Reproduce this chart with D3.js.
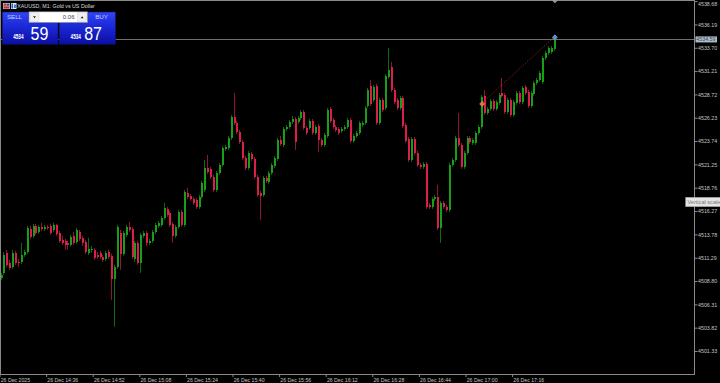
<!DOCTYPE html>
<html><head><meta charset="utf-8">
<script src="https://cdn.jsdelivr.net/npm/d3@7/dist/d3.min.js"></script>
<style>
html,body{margin:0;padding:0;background:#000;overflow:hidden}
svg{display:block}
</style></head><body>
<script>
// ---------- DATA ----------
const chartTitle = "XAUUSD, M1:  Gold vs US Dollar";
const timeLabels = ["26 Dec 2025","26 Dec 14:36","26 Dec 14:52","26 Dec 15:08","26 Dec 15:24","26 Dec 15:40","26 Dec 15:56","26 Dec 16:12","26 Dec 16:28","26 Dec 16:44","26 Dec 17:00","26 Dec 17:16"];
const timeLabelBars = [0,16,32,48,64,80,96,112,128,144,160,176];
const priceTicks = [4538.68,4536.19,4533.70,4531.21,4528.72,4526.23,4523.74,4521.25,4518.76,4516.27,4513.78,4511.29,4508.80,4506.31,4503.82,4501.33];
const currentPrice = 4534.59;
const sellPrice = ["4534","59"];
const buyPrice = ["4534","87"];
const lotSize = "0.06";
const tradeEntry = {bar:165, price:4527.70};
const tradeExit = {bar:190, price:4534.82};

const opens = [4509.14,4509.67,4511.81,4510.74,4510.31,4511.81,4510.85,4510.85,4511.59,4511.91,
4514.37,4513.62,4514.69,4514.05,4514.58,4514.37,4514.58,4514.69,4514.26,4514.79,
4513.94,4513.19,4513.09,4512.87,4512.66,4513.62,4512.98,4514.05,4513.41,4512.98,
4511.81,4512.13,4512.13,4511.59,4511.81,4511.38,4511.17,4511.91,4511.49,4509.03,
4510.31,4513.94,4511.70,4513.73,4514.58,4514.37,4511.17,4512.87,4510.74,4513.62,
4513.94,4512.87,4513.09,4514.05,4514.69,4514.79,4515.54,4516.50,4516.07,4514.90,
4513.62,4514.58,4516.18,4514.79,4518.21,4517.89,4517.57,4517.46,4516.71,4517.78,
4518.52,4520.87,4520.77,4519.91,4518.52,4520.34,4521.19,4522.90,4523.01,4524.07,
4526.32,4525.68,4524.72,4523.65,4521.94,4520.87,4522.37,4521.83,4519.91,4518.21,
4517.99,4519.81,4519.38,4520.34,4521.09,4521.83,4523.86,4523.33,4525.04,4525.25,
4525.78,4526.10,4525.78,4526.21,4526.85,4525.14,4525.14,4525.89,4524.61,4525.36,
4523.86,4523.33,4524.29,4527.17,4525.99,4525.25,4525.04,4524.82,4525.04,4525.25,
4525.99,4523.75,4524.29,4524.61,4525.46,4525.68,4527.49,4529.62,4528.13,4529.62,
4525.68,4528.13,4527.28,4530.58,4531.65,4529.19,4528.13,4527.28,4528.34,4525.46,
4523.97,4521.72,4523.97,4522.47,4521.19,4520.98,4521.30,4516.93,4516.71,4517.57,
4517.78,4514.47,4517.14,4516.71,4516.39,4521.19,4521.72,4524.07,4523.33,4520.98,
4522.47,4524.07,4523.54,4523.54,4524.61,4525.25,4528.56,4526.74,4527.17,4528.02,
4527.17,4527.81,4528.88,4528.66,4526.85,4528.13,4526.53,4527.81,4528.88,4527.92,
4529.52,4528.98,4527.49,4528.77,4529.94,4530.26,4530.05,4532.61,4533.14,4533.25,
4533.57];
const highs = [4509.67,4511.91,4512.13,4511.06,4512.13,4512.02,4511.17,4512.87,4512.13,4514.69,
4514.69,4514.90,4514.90,4514.79,4515.01,4514.79,4514.79,4514.90,4515.01,4514.90,
4514.15,4513.62,4513.30,4513.09,4513.73,4514.05,4514.47,4514.26,4513.62,4513.19,
4513.41,4512.55,4512.34,4511.91,4512.02,4511.59,4512.02,4512.13,4511.70,4510.53,
4514.79,4514.26,4514.15,4514.79,4515.11,4514.58,4513.09,4513.09,4513.94,4514.15,
4514.15,4513.30,4514.26,4515.01,4515.22,4515.75,4517.14,4516.71,4516.29,4515.11,
4514.79,4516.39,4516.39,4518.52,4518.74,4518.10,4517.78,4517.67,4517.99,4519.49,
4521.72,4522.26,4520.98,4520.13,4520.55,4521.41,4523.22,4523.33,4524.29,4526.53,
4528.88,4525.89,4524.93,4523.86,4522.15,4522.69,4522.58,4522.05,4520.13,4518.42,
4520.02,4520.02,4520.55,4521.41,4522.15,4524.07,4524.29,4525.25,4525.46,4525.99,
4526.42,4526.32,4526.42,4527.06,4527.06,4525.36,4526.10,4526.10,4525.46,4525.57,
4524.07,4524.61,4527.28,4527.38,4526.21,4525.46,4525.25,4525.25,4525.46,4526.21,
4526.21,4524.50,4524.82,4525.89,4525.89,4527.49,4529.41,4530.26,4529.73,4529.84,
4528.34,4528.34,4530.90,4533.68,4532.18,4529.41,4528.34,4528.56,4528.56,4525.68,
4524.18,4524.18,4524.18,4522.69,4521.41,4521.51,4521.51,4517.14,4517.78,4517.99,
4519.06,4517.35,4517.35,4516.93,4521.41,4521.94,4524.29,4526.74,4523.54,4522.69,
4524.29,4524.29,4524.07,4524.82,4525.46,4528.66,4529.19,4527.38,4528.24,4528.24,
4528.13,4528.88,4530.48,4528.88,4528.34,4528.34,4528.13,4529.09,4529.09,4529.62,
4529.73,4529.19,4529.09,4530.16,4530.48,4531.22,4532.82,4533.36,4533.89,4533.89,
4534.85];
const lows = [4508.92,4509.46,4510.31,4509.99,4510.10,4510.53,4510.31,4510.63,4511.38,4511.70,
4513.30,4513.41,4513.73,4513.83,4514.15,4514.15,4514.26,4513.73,4514.05,4513.62,
4512.87,4512.66,4512.13,4512.13,4512.45,4512.66,4512.77,4513.09,4512.55,4511.70,
4511.59,4511.81,4511.06,4511.17,4511.17,4510.85,4510.95,4511.17,4506.79,4503.91,
4510.10,4509.99,4511.49,4513.51,4514.05,4511.17,4510.85,4510.53,4509.67,4513.41,
4512.55,4512.66,4512.87,4513.83,4514.47,4514.58,4515.33,4515.65,4514.58,4512.87,
4513.41,4514.37,4514.58,4514.58,4517.57,4517.35,4516.93,4516.50,4516.50,4517.57,
4518.31,4520.23,4519.70,4518.31,4518.31,4520.13,4520.98,4522.69,4522.79,4523.86,
4525.46,4524.50,4523.43,4521.72,4520.66,4520.66,4521.62,4519.70,4517.78,4515.33,
4517.78,4519.27,4519.17,4520.13,4520.87,4521.62,4523.22,4523.11,4524.82,4525.04,
4525.57,4522.79,4525.57,4525.99,4524.93,4524.39,4524.93,4524.39,4524.39,4522.58,
4523.11,4523.11,4524.07,4525.68,4525.04,4524.72,4524.39,4524.61,4524.82,4525.04,
4523.54,4523.54,4524.07,4524.39,4525.25,4525.46,4527.28,4527.49,4527.92,4525.46,
4525.46,4526.85,4527.06,4530.37,4528.98,4527.70,4527.06,4527.06,4525.14,4523.54,
4521.51,4521.51,4522.26,4520.98,4520.77,4520.77,4516.50,4516.50,4516.50,4517.35,
4514.26,4512.87,4516.50,4516.18,4516.18,4520.98,4521.51,4523.11,4520.77,4520.77,
4522.26,4523.43,4523.33,4523.33,4524.39,4525.04,4526.53,4526.53,4526.96,4526.96,
4526.96,4527.60,4528.34,4526.64,4526.64,4526.32,4526.32,4527.60,4527.70,4527.70,
4528.66,4527.28,4527.28,4528.56,4529.73,4530.05,4529.84,4532.40,4532.93,4533.04,
4533.36];
const closes = [4509.46,4511.59,4510.53,4510.20,4511.81,4510.74,4510.74,4511.59,4511.91,4514.47,
4513.51,4514.69,4513.94,4514.58,4514.37,4514.58,4514.47,4513.94,4514.79,4513.83,
4513.09,4512.87,4512.66,4512.66,4513.51,4512.87,4514.26,4513.30,4512.87,4511.91,
4512.23,4512.23,4511.27,4511.38,4511.38,4511.06,4511.81,4511.38,4509.03,4510.31,
4514.58,4511.70,4513.94,4514.58,4514.26,4511.38,4512.87,4510.74,4513.73,4513.94,
4512.87,4513.09,4514.05,4514.79,4515.01,4515.54,4516.61,4515.86,4514.79,4513.62,
4514.58,4516.18,4514.79,4518.31,4517.78,4517.57,4517.14,4516.71,4517.78,4519.27,
4520.87,4520.45,4519.91,4518.52,4520.34,4521.19,4523.01,4523.11,4524.07,4526.32,
4525.68,4524.72,4523.65,4521.94,4520.87,4522.47,4521.83,4519.91,4517.99,4517.89,
4519.81,4519.49,4520.34,4521.19,4521.94,4523.86,4523.43,4525.04,4525.25,4525.78,
4526.10,4523.65,4526.21,4526.85,4525.14,4524.61,4525.89,4524.61,4525.25,4523.86,
4523.33,4524.39,4527.06,4525.89,4525.25,4524.93,4524.61,4525.04,4525.25,4525.99,
4523.75,4524.29,4524.61,4525.68,4525.68,4527.28,4529.19,4527.70,4529.52,4525.68,
4528.13,4527.06,4530.69,4531.33,4529.19,4527.92,4527.28,4528.34,4525.36,4523.75,
4521.72,4523.97,4522.47,4521.19,4520.98,4521.30,4516.71,4516.71,4517.57,4517.78,
4514.47,4517.14,4516.71,4516.39,4521.19,4521.72,4524.07,4523.33,4520.98,4522.47,
4524.07,4523.65,4523.86,4524.61,4525.25,4528.45,4526.74,4527.17,4528.02,4527.17,
4527.92,4528.66,4528.56,4526.85,4528.13,4526.53,4527.92,4528.88,4527.92,4529.41,
4528.88,4527.49,4528.88,4529.94,4530.26,4531.01,4532.61,4533.14,4533.68,4533.68,
4534.59];

// ---------- LAYOUT ----------
const W = 720, H = 383;
const plotRight = 694.5, plotBottom = 374.5;
const FONT = "'Liberation Sans', Arial, sans-serif";

const svg = d3.select("body").append("svg").attr("width", W).attr("height", H)
  .style("background", "#000").style("font-family", FONT);

const x = d3.scaleLinear().domain([0, 16]).range([0.5, 47.1]);
const y = d3.scaleLinear().domain([4501.33, 4538.68]).range([351.0, 1.1]);

const candles = opens.map((o, i) => ({i, o, h: highs[i], l: lows[i], c: closes[i]}));

const plot = svg.append("g");
plot.append("clipPath").attr("id", "pc").append("rect")
  .attr("x", 0).attr("y", 0).attr("width", plotRight).attr("height", plotBottom);
const cg = plot.append("g").attr("clip-path", "url(#pc)");

// price line
cg.append("line").attr("x1", 0).attr("x2", plotRight)
  .attr("y1", Math.round(y(currentPrice)) + 0.5).attr("y2", Math.round(y(currentPrice)) + 0.5)
  .attr("stroke", "#6f6f6f").attr("stroke-width", 1);

// wicks
cg.selectAll("line.wick").data(candles).join("line").attr("class", "wick")
  .attr("x1", d => Math.round(x(d.i)) + 0.5).attr("x2", d => Math.round(x(d.i)) + 0.5)
  .attr("y1", d => y(d.h)).attr("y2", d => y(d.l))
  .attr("stroke", d => d.c >= d.o ? "#0c6a0c" : "#8e1534").attr("stroke-width", 1);

// bodies
cg.selectAll("rect.body").data(candles).join("rect").attr("class", "body")
  .attr("x", d => Math.round(x(d.i)) - 0.5).attr("width", 2)
  .attr("y", d => y(Math.max(d.o, d.c)))
  .attr("height", d => Math.max(1, Math.abs(y(d.o) - y(d.c))))
  .attr("fill", d => d.c >= d.o ? "#17a017" : "#dc1e48")
  .attr("shape-rendering", "crispEdges");

// trade line
const ex = x(tradeEntry.bar), ey = y(tradeEntry.price);
const tx = x(tradeExit.bar), ty = y(tradeExit.price);
cg.append("line").attr("x1", ex).attr("y1", ey).attr("x2", tx).attr("y2", ty)
  .attr("stroke", "#a02222").attr("stroke-width", 1).attr("stroke-dasharray", "1,1.6");
const diamond = (cx, cy, r) => `M${cx},${cy - r}L${cx + r},${cy}L${cx},${cy + r}L${cx - r},${cy}Z`;
cg.append("path").attr("d", diamond(ex + 1, ey, 2.4)).attr("fill", "#f0663a").attr("stroke", "#f3b59a").attr("stroke-width", 0.6);
cg.append("path").attr("d", diamond(tx + 1, ty, 2.4)).attr("fill", "#4e8fd6").attr("stroke", "#a8c8ee").attr("stroke-width", 0.6);

// frame
const frame = svg.append("g").attr("stroke", "#8a8a8a").attr("stroke-width", 1).attr("shape-rendering", "crispEdges");
frame.append("line").attr("x1", 0.5).attr("x2", 0.5).attr("y1", 0).attr("y2", plotBottom);
frame.append("line").attr("x1", 0).attr("x2", plotRight).attr("y1", 0.5).attr("y2", 0.5);
frame.append("line").attr("x1", 0).attr("x2", plotRight).attr("y1", plotBottom).attr("y2", plotBottom);
frame.append("line").attr("x1", plotRight).attr("x2", plotRight).attr("y1", 0).attr("y2", plotBottom);

// chart shift marker
svg.append("path").attr("d", diamond(x(190) + 1, 0.5, 2.8)).attr("fill", "#9a9a9a");

// ---------- AXES ----------
const yAxis = d3.axisRight(y).tickValues(priceTicks).tickFormat(d3.format(".2f"))
  .tickSize(3).tickPadding(0.5);
const yg = svg.append("g").attr("transform", `translate(${plotRight},0)`).call(yAxis);
yg.select(".domain").remove();
yg.selectAll(".tick line").attr("stroke", "#8a8a8a");
yg.selectAll(".tick text").attr("fill", "#c4c4c4").style("font-size", "5.3px").style("font-family", FONT)
  .attr("dy", (d, k) => k === 0 ? "0.9em" : "0.32em");

const xAxis = d3.axisBottom(x).tickValues(timeLabelBars).tickFormat((d, k) => timeLabels[k])
  .tickSize(2.5).tickPadding(1);
const xg = svg.append("g").attr("transform", `translate(-1,${plotBottom})`).call(xAxis);
xg.select(".domain").remove();
xg.selectAll(".tick line").attr("stroke", "#8a8a8a");
xg.selectAll(".tick text").attr("fill", "#c4c4c4").attr("text-anchor", "start").attr("x", 0.7)
  .style("font-size", "5.2px").style("font-family", FONT);

// current price label
const cpY = y(currentPrice);
svg.append("rect").attr("x", 695.5).attr("y", cpY - 3).attr("width", 21.5).attr("height", 6)
  .attr("fill", "#aebdcd");
svg.append("text").attr("x", 696.3).attr("y", cpY + 1.9).text(d3.format(".2f")(currentPrice))
  .attr("fill", "#3a4a5a").style("font-size", "5.3px");

// vertical scale tooltip
svg.append("rect").attr("x", 685.7).attr("y", 197.3).attr("width", 40).attr("height", 9.4)
  .attr("fill", "#e4e4e4").attr("stroke", "#9c9c9c").attr("stroke-width", 0.6);
svg.append("text").attr("x", 687.4).attr("y", 204.2).text("Vertical scale")
  .attr("fill", "#7a7a7a").style("font-size", "5.6px");

// ---------- TITLE ----------
const ic = svg.append("g");
ic.append("rect").attr("x", 3).attr("y", 3).attr("width", 7).attr("height", 6).attr("fill", "#d9d9e8");
ic.append("rect").attr("x", 3.5).attr("y", 3.5).attr("width", 3).attr("height", 2.3).attr("fill", "#c03030");
ic.append("rect").attr("x", 6.8).attr("y", 3.5).attr("width", 2.7).attr("height", 2.3).attr("fill", "#3050b0");
ic.append("rect").attr("x", 3.5).attr("y", 6.3).attr("width", 6).attr("height", 2.3).attr("fill", "#c03030");
ic.append("rect").attr("x", 11).attr("y", 3).attr("width", 5.5).attr("height", 6).attr("fill", "#e8eef8");
ic.append("rect").attr("x", 11.5).attr("y", 3.5).attr("width", 1.6).attr("height", 5).attr("fill", "#2a5fb8");
ic.append("rect").attr("x", 14.2).attr("y", 4.5).attr("width", 1.6).attr("height", 3.5).attr("fill", "#2a5fb8");
svg.append("text").attr("x", 17.3).attr("y", 8.2).text(chartTitle)
  .attr("fill", "#d8d8d8").style("font-size", "5.3px");

// ---------- ONE CLICK TRADING PANEL ----------
const defs = svg.append("defs");
const g1 = defs.append("linearGradient").attr("id", "btnGrad").attr("x1", 0).attr("y1", 0).attr("x2", 0).attr("y2", 1);
g1.append("stop").attr("offset", "0%").attr("stop-color", "#3347f0");
g1.append("stop").attr("offset", "35%").attr("stop-color", "#1e2ee0");
g1.append("stop").attr("offset", "100%").attr("stop-color", "#0b0ea2");
const panel = svg.append("g");
[[2.3, 55.7], [59.2, 56.3]].forEach(([bx, bw]) => {
  panel.append("rect").attr("x", bx).attr("y", 12).attr("width", bw).attr("height", 32.2)
    .attr("fill", "url(#btnGrad)").attr("stroke", "#10146a").attr("stroke-width", 0.6);
});
// lot box
panel.append("rect").attr("x", 29).attr("y", 11.8).attr("width", 58.6).attr("height", 10.8)
  .attr("fill", "#ffffff").attr("stroke", "#7a7a7a").attr("stroke-width", 0.6);
panel.append("rect").attr("x", 30).attr("y", 12.8).attr("width", 9).attr("height", 8.8).attr("fill", "#f0f0f0").attr("stroke", "#c8c8c8").attr("stroke-width", 0.4);
panel.append("rect").attr("x", 77.6).attr("y", 12.8).attr("width", 9).attr("height", 8.8).attr("fill", "#f0f0f0").attr("stroke", "#c8c8c8").attr("stroke-width", 0.4);
panel.append("path").attr("d", "M33,16.3L36,16.3L34.5,18.3Z").attr("fill", "#202020");
panel.append("path").attr("d", "M80.6,18.3L83.6,18.3L82.1,16.3Z").attr("fill", "#202020");
panel.append("text").attr("x", 74.5).attr("y", 19.2).attr("text-anchor", "end").text(lotSize)
  .attr("fill", "#444").style("font-size", "6px");
panel.append("text").attr("x", 14.5).attr("y", 19.3).attr("text-anchor", "middle").text("SELL")
  .attr("fill", "#c9d2ff").style("font-size", "6.2px");
panel.append("text").attr("x", 101.5).attr("y", 19.3).attr("text-anchor", "middle").text("BUY")
  .attr("fill", "#c9d2ff").style("font-size", "6.2px");
// prices
[[13.2, 30.5, sellPrice], [70.6, 84.2, buyPrice]].forEach(([sx, bx, p]) => {
  panel.append("text").attr("x", sx).attr("y", 39.3).text(p[0]).attr("fill", "#ffffff")
    .attr("textLength", 10.3).attr("lengthAdjust", "spacingAndGlyphs")
    .style("font-size", "6.6px").style("font-weight", "bold");
  panel.append("text").attr("x", bx).attr("y", 40).text(p[1]).attr("fill", "#ffffff")
    .attr("textLength", 17.8).attr("lengthAdjust", "spacingAndGlyphs")
    .style("font-size", "17.5px");
});
</script>
</body></html>
